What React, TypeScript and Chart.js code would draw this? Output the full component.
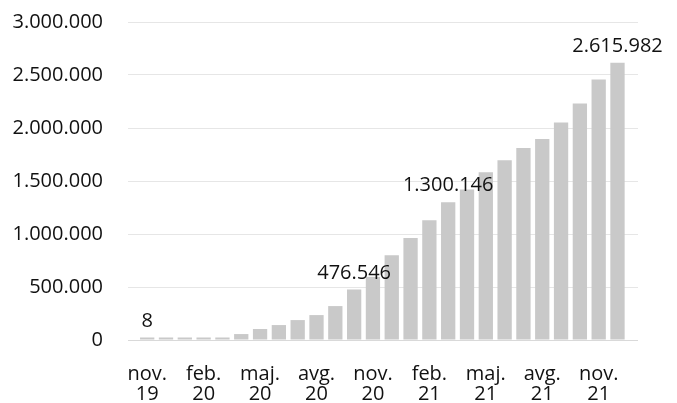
import React, { useEffect, useRef } from "react";
import { Chart, registerables } from "chart.js";

Chart.register(...registerables);

// Months shown as categories (Slovenian abbreviations)
const categories = [
  "nov. 19", "dec. 19", "jan. 20", "feb. 20", "mar. 20", "apr. 20",
  "maj. 20", "jun. 20", "jul. 20", "avg. 20", "sep. 20", "okt. 20",
  "nov. 20", "dec. 20", "jan. 21", "feb. 21", "mar. 21", "apr. 21",
  "maj. 21", "jun. 21", "jul. 21", "avg. 21", "sep. 21", "okt. 21",
  "nov. 21", "dec. 21",
];

// Cumulative values per month
const values = [
  8, 1500, 4000, 9000, 16000, 56000,
  104000, 141000, 188000, 235000, 320000, 476546,
  596000, 800000, 963000, 1130000, 1300146, 1419000,
  1582000, 1695000, 1811000, 1896000, 2053000, 2232000,
  2458000, 2615982,
];

// Which categories get an axis label
const tickIndices = [0, 3, 6, 9, 12, 15, 18, 21, 24];

// Which bars get a value label
const labelledIndices = [0, 11, 16, 25];

const yMin = 0;
const yMax = 3000000;
const yStep = 500000;

const fmt = (n: number) =>
  String(Math.round(n)).replace(/\B(?=(\d{3})+(?!\d))/g, ".");

const valueLabelsPlugin = {
  id: "valueLabels",
  afterDatasetsDraw(chart: any) {
    const meta = chart.getDatasetMeta(0);
    const ctx = chart.ctx;
    ctx.save();
    ctx.font = "20px 'Open Sans', sans-serif";
    ctx.fillStyle = "#111111";
    ctx.textAlign = "center";
    ctx.textBaseline = "alphabetic";
    labelledIndices.forEach((i) => {
      const el = meta.data[i];
      if (!el) return;
      ctx.fillText(fmt(values[i]), el.x, el.y - 10.7);
    });
    ctx.restore();
  },
};

export default function App() {
  const canvasRef = useRef<HTMLCanvasElement | null>(null);

  useEffect(() => {
    document.body.style.margin = "0";
    const canvas = canvasRef.current;
    if (!canvas) return;

    const chart = new Chart(canvas, {
      type: "bar",
      data: {
        datasets: [
          {
            data: values.map((v, i) => ({ x: i, y: v })),
            backgroundColor: "#c9c9c9",
            borderWidth: 0,
            barPercentage: 0.76,
            categoryPercentage: 1,
            minBarLength: 2.5,
          },
        ],
      },
      options: {
        animation: false,
        responsive: false,
        devicePixelRatio: 1,
        layout: { padding: { left: 0, right: 39, top: 22, bottom: 0 } },
        plugins: {
          legend: { display: false },
          tooltip: { enabled: false },
        },
        font: { family: "'Open Sans', sans-serif", size: 20 },
        scales: {
          x: {
            type: "linear",
            offset: false,
            min: -1.02,
            max: 26.09,
            grid: { display: false, drawTicks: false },
            border: { display: false },
            afterBuildTicks: (scale: any) => {
              scale.ticks = tickIndices.map((v) => ({ value: v }));
            },
            afterFit: (scale: any) => {
              scale.height = 63;
            },
            ticks: {
              autoSkip: false,
              maxRotation: 0,
              minRotation: 0,
              padding: 24,
              color: "#111111",
              font: { family: "'Open Sans', sans-serif", size: 20, lineHeight: 1 },
              callback: (v: any) => {
                const c = categories[Math.round(Number(v))];
                return c ? c.split(" ") : "";
              },
            },
          },
          y: {
            type: "linear",
            min: yMin,
            max: yMax,
            grid: {
              drawTicks: true,
              tickLength: 25,
              tickColor: "rgba(0,0,0,0)",
              color: (c: any) => (c.tick && c.tick.value === 0 ? "#d9d9d9" : "#e6e6e6"),
              lineWidth: 1,
            },
            border: { display: false },
            afterFit: (scale: any) => {
              scale.width = 128;
            },
            ticks: {
              stepSize: yStep,
              padding: 0,
              color: "#111111",
              font: { family: "'Open Sans', sans-serif", size: 20 },
              callback: (v: any) => fmt(Number(v)),
            },
          },
        },
      } as any,
      plugins: [valueLabelsPlugin],
    });

    return () => chart.destroy();
  }, []);

  return (
    <div style={{ width: 677, height: 403, background: "#ffffff" }}>
      <canvas ref={canvasRef} width={677} height={403} style={{ display: "block" }} />
    </div>
  );
}
